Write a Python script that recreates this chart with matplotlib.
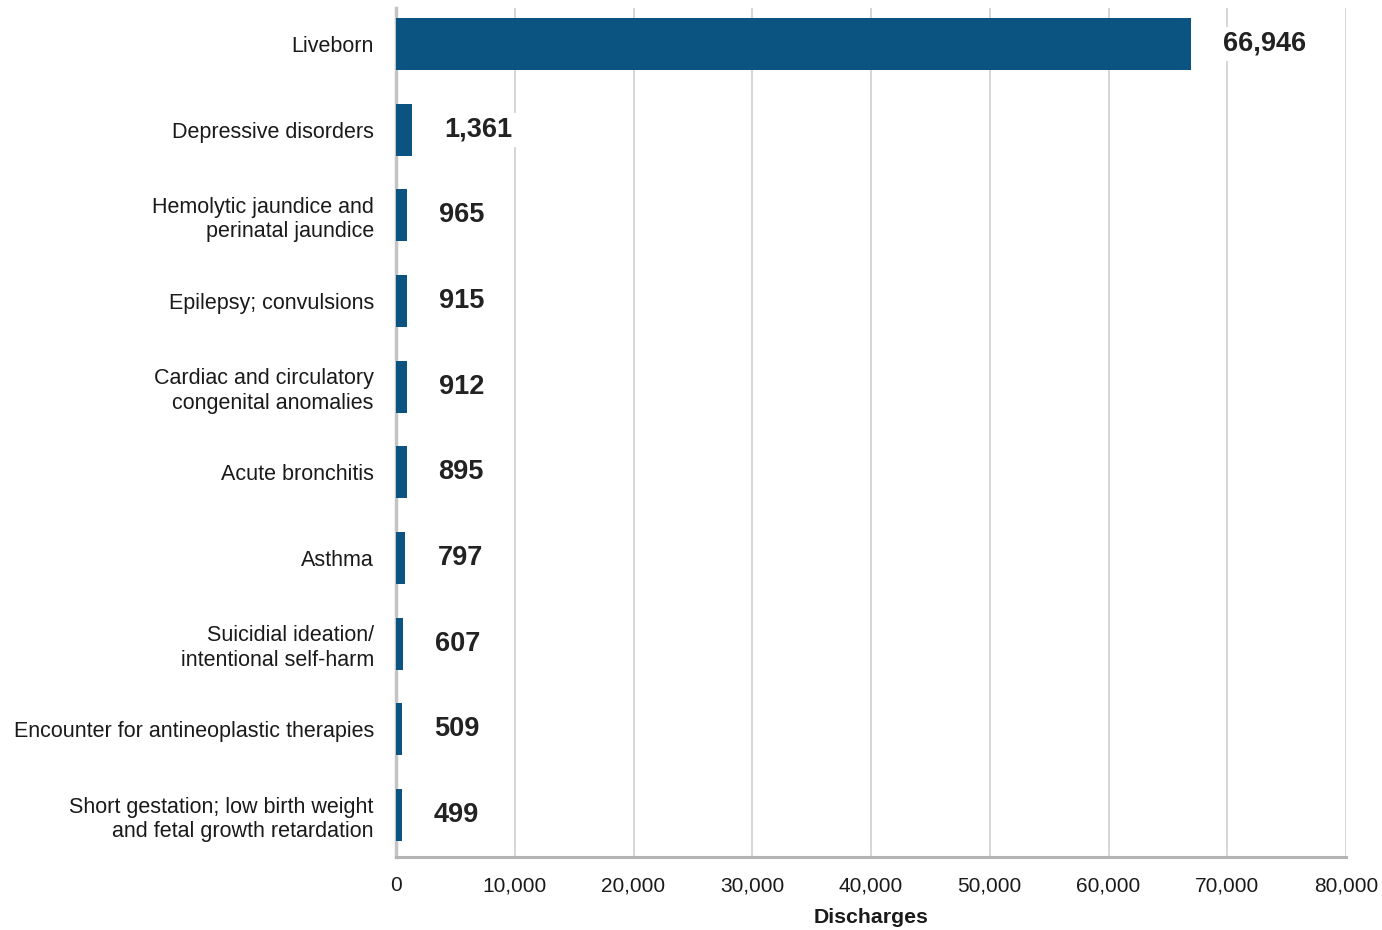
import matplotlib
matplotlib.use("Agg")
import matplotlib.pyplot as plt
from matplotlib.ticker import FuncFormatter

categories = [
    "Liveborn",
    "Depressive disorders",
    "Hemolytic jaundice and\nperinatal jaundice",
    "Epilepsy; convulsions",
    "Cardiac and circulatory\ncongenital anomalies",
    "Acute bronchitis",
    "Asthma",
    "Suicidial ideation/\nintentional self-harm",
    "Encounter for antineoplastic therapies",
    "Short gestation; low birth weight\nand fetal growth retardation",
]
values = [66946, 1361, 965, 915, 912, 895, 797, 607, 509, 499]
xticks = [0, 10000, 20000, 30000, 40000, 50000, 60000, 70000, 80000]

plt.rcParams['font.family'] = ['Liberation Sans', 'DejaVu Sans']

fig = plt.figure(figsize=(13.82, 9.30), dpi=100)
ax = fig.add_axes([396/1382, 1-857/930, (1346-396)/1382, (857-8)/930])

ypos = list(range(len(categories)))
ax.barh(ypos, values, height=0.61, color="#0b5482", zorder=3)
ax.set_ylim(9.49, -0.42)
ax.set_xlim(0, 80000)
ax.set_xticks(xticks)
ax.xaxis.set_major_formatter(FuncFormatter(lambda v, p: f"{int(v):,}"))
ax.set_yticks(ypos)
ax.set_yticklabels(categories, fontsize=15.5, color="#1a1a1a", linespacing=1.22)
ax.tick_params(axis='y', length=0, pad=16)
ax.tick_params(axis='x', length=0, pad=14, labelsize=15, labelcolor="#1a1a1a")
ax.grid(axis='x', color="#cccccc", linewidth=1.1, zorder=0)
ax.set_axisbelow(True)
for s in ["top", "right"]:
    ax.spines[s].set_visible(False)
ax.spines["left"].set_color("#c4c4c4")
ax.spines["left"].set_linewidth(2.5)
ax.spines["bottom"].set_color("#b4b4b4")
ax.spines["bottom"].set_linewidth(2.2)

for y, v in zip(ypos, values):
    ax.annotate(f"{v:,}", xy=(v, y), xytext=(23, 0), textcoords="offset points",
                ha="left", va="center", fontsize=19.5,
                fontweight="bold", color="#222222",
                family=['Liberation Sans Narrow', 'Liberation Sans', 'DejaVu Sans'],
                bbox=dict(boxstyle="square,pad=0.15", fc="white", ec="none"), zorder=4)

ax.set_xlabel("Discharges", fontsize=15.3, fontweight="bold", color="#1a1a1a", labelpad=9)

fig.savefig("out.png", dpi=100)
